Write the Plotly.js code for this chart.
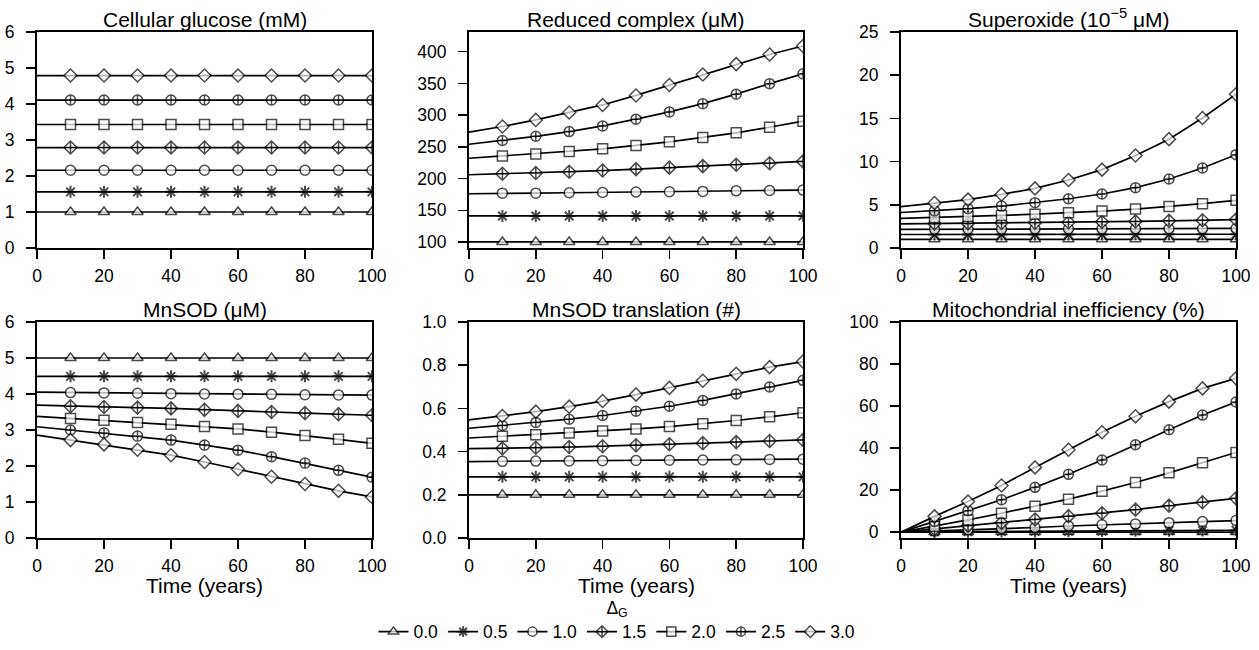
<!DOCTYPE html>
<html>
<head>
<meta charset="utf-8">
<script src="https://cdn.plot.ly/plotly-3.0.1.min.js"></script>
<style>html,body{margin:0;padding:0;background:#fff;}#chart{width:1259px;height:650px;}</style>
</head>
<body>
<div id="chart"></div>
<script>
// ---- data ----
const years = [0,10,20,30,40,50,60,70,80,90,100];
const deltaG = ['0.0','0.5','1.0','1.5','2.0','2.5','3.0'];
const panelTitles = ['Cellular glucose (mM)','Reduced complex (\u03bcM)','Superoxide (10<sup>\u22125</sup> \u03bcM)',
                     'MnSOD (\u03bcM)','MnSOD translation (#)','Mitochondrial inefficiency (%)'];
const xTitle = 'Time (years)';

// Cellular glucose
const g00 = [1.0,1.0,1.0,1.0,1.0,1.0,1.0,1.0,1.0,1.0,1.0];
const g05 = [1.56,1.56,1.56,1.56,1.56,1.56,1.56,1.56,1.56,1.56,1.56];
const g10 = [2.16,2.16,2.16,2.16,2.16,2.16,2.16,2.16,2.16,2.16,2.16];
const g15 = [2.79,2.79,2.79,2.79,2.79,2.79,2.79,2.79,2.79,2.79,2.79];
const g20 = [3.43,3.43,3.43,3.43,3.43,3.43,3.43,3.43,3.43,3.43,3.43];
const g25 = [4.11,4.11,4.11,4.11,4.11,4.11,4.11,4.11,4.11,4.11,4.11];
const g30 = [4.79,4.79,4.79,4.79,4.79,4.79,4.79,4.79,4.79,4.79,4.79];
// Reduced complex
const r00 = [100,100,100,100,100,100,100,100,100,100,100];
const r05 = [141,141,141,141,141,141,141,141,141,141,141];
const r10 = [176,177,177,177.6,178,178.7,179.2,179.7,180.6,181.2,181.8];
const r15 = [206,207.5,208.7,210.6,212.6,214.8,217.2,219.6,221.8,224.2,227];
const r20 = [232,235.5,238.8,242.6,246.8,252.2,257.8,264.8,272,280.8,290.4];
const r25 = [254,260,266.6,274,283,293.6,305,318,333,349.6,365];
const r30 = [273,282,292.4,304,316,331,347.4,364,380.4,395.6,409];
// Superoxide
const s00 = [1.0,1.0,1.0,1.0,1.0,1.0,1.0,1.0,1.0,1.0,1.0];
const s05 = [1.56,1.56,1.56,1.57,1.57,1.57,1.57,1.58,1.58,1.58,1.59];
const s10 = [2.16,2.17,2.17,2.18,2.19,2.2,2.21,2.22,2.23,2.24,2.26];
const s15 = [2.79,2.82,2.85,2.89,2.93,2.98,3.03,3.08,3.14,3.21,3.29];
const s20 = [3.43,3.53,3.64,3.77,3.92,4.08,4.27,4.5,4.79,5.13,5.52];
const s25 = [4.11,4.3,4.55,4.85,5.25,5.7,6.25,6.98,7.99,9.26,10.8];
const s30 = [4.79,5.2,5.6,6.2,6.9,7.87,9.07,10.7,12.6,15.05,17.8];
// MnSOD
const m00 = [5.0,5.0,5.0,5.0,5.0,5.0,5.0,5.0,5.0,5.0,5.0];
const m05 = [4.49,4.49,4.49,4.49,4.49,4.49,4.49,4.49,4.49,4.49,4.49];
const m10 = [4.05,4.04,4.03,4.02,4.01,4.0,3.995,3.99,3.98,3.975,3.97];
const m15 = [3.69,3.66,3.64,3.62,3.6,3.56,3.53,3.5,3.47,3.44,3.41];
const m20 = [3.38,3.32,3.27,3.21,3.16,3.1,3.03,2.94,2.85,2.74,2.63];
const m25 = [3.09,3.0,2.92,2.83,2.72,2.58,2.44,2.26,2.08,1.88,1.69];
const m30 = [2.86,2.72,2.6,2.45,2.3,2.11,1.91,1.7,1.5,1.31,1.14];
// MnSOD translation
const t00 = [0.2,0.2,0.2,0.2,0.2,0.2,0.2,0.2,0.2,0.2,0.2];
const t05 = [0.283,0.283,0.283,0.283,0.283,0.283,0.283,0.283,0.283,0.283,0.283];
const t10 = [0.354,0.355,0.356,0.357,0.358,0.359,0.36,0.361,0.362,0.364,0.365];
const t15 = [0.414,0.415,0.418,0.421,0.425,0.429,0.434,0.439,0.444,0.449,0.454];
const t20 = [0.463,0.471,0.478,0.486,0.495,0.505,0.516,0.529,0.544,0.561,0.58];
const t25 = [0.508,0.521,0.535,0.55,0.567,0.587,0.61,0.637,0.667,0.699,0.73];
const t30 = [0.547,0.565,0.585,0.608,0.634,0.664,0.695,0.728,0.76,0.791,0.817];
// Mitochondrial inefficiency
const e00 = [0,0,0,0,0,0,0,0,0,0,0];
const e05 = [0,0.1,0.2,0.3,0.35,0.45,0.5,0.6,0.7,0.8,0.9];
const e10 = [0,0.5,1.1,1.7,2.2,2.9,3.5,3.9,4.5,5.0,5.5];
const e15 = [0,1.5,3.1,4.4,6.0,7.6,9.0,10.7,12.6,14.2,16.1];
const e20 = [0,2.8,5.8,9.0,12.3,15.7,19.5,23.6,28.2,33.0,37.9];
const e25 = [0,5.1,10.2,15.4,21.3,27.5,34.3,41.6,48.7,55.7,61.9];
const e30 = [0,7.5,14.6,22.2,30.8,39.2,47.5,55.1,62.1,68.4,73.2];

const panels = [
  [g00,g05,g10,g15,g20,g25,g30],
  [r00,r05,r10,r15,r20,r25,r30],
  [s00,s05,s10,s15,s20,s25,s30],
  [m00,m05,m10,m15,m20,m25,m30],
  [t00,t05,t10,t15,t20,t25,t30],
  [e00,e05,e10,e15,e20,e25,e30]
];

// ---- styles ----
const W = 1259, H = 650;
const FONT = 'Liberation Sans, Arial, Helvetica, sans-serif';
const symbols = ['triangle-up','asterisk-open','circle','diamond-cross','square','circle-cross','diamond'];
const colX = [[37,372],[469,803],[901,1236]];
const rowY = [[32,248],[322,538]];
const yRanges = [[0,6],[90.5,431],[0,25],[0,6],[0,1],[-2.8,100]];
const yTicks = [
  {tick0:0,dtick:1},{tick0:100,dtick:50},{tick0:0,dtick:5},
  {tick0:0,dtick:1},{tick0:0,dtick:0.2,tickformat:'.1f'},{tick0:0,dtick:20}
];

const msize = years.map((x,i)=> i===0 ? 0 : 10);

const traces = [];
panels.forEach((series, p) => {
  series.forEach((vals, k) => {
    const isAst = symbols[k].startsWith('asterisk');
    traces.push({
      x: years, y: vals,
      xaxis: 'x' + (p+1), yaxis: 'y' + (p+1),
      type: 'scatter', mode: 'lines+markers',
      name: deltaG[k], legendgroup: deltaG[k], showlegend: p === 0,
      line: {color: '#000', width: 1.7},
      marker: {symbol: symbols[k], size: msize, color: isAst ? '#000' : '#fff',
               line: {color: '#000', width: isAst ? 2 : 1.5}},
      hoverinfo: 'x+y'
    });
  });
});

const layout = {
  width: W, height: H,
  margin: {l:0, r:0, t:0, b:0},
  paper_bgcolor: '#fff', plot_bgcolor: '#fff',
  font: {family: FONT, size: 17.5, color: '#000'},
  showlegend: true,
  legend: {
    orientation: 'h', xanchor: 'center', x: 617/W, yanchor: 'bottom', y: 0,
    font: {family: FONT, size: 17.5, color: '#000'},
    title: {text: '\u0394<sub>G</sub>', side: 'top center', font: {family: FONT, size: 17.5}},
    bgcolor: 'rgba(0,0,0,0)', borderwidth: 0, traceorder: 'normal'
  },
  annotations: []
};

for (let p = 0; p < 6; p++) {
  const c = p % 3, r = Math.floor(p / 3);
  const xd = [colX[c][0]/W, colX[c][1]/W];
  const yd = [(H - rowY[r][1])/H, (H - rowY[r][0])/H];
  const axCommon = {
    showline: true, linecolor: '#000', linewidth: 2, mirror: true,
    ticks: 'outside', ticklen: 9, tickwidth: 1.5, tickcolor: '#000',
    showgrid: false, zeroline: false,
    tickfont: {family: FONT, size: 17.5, color: '#000'}
  };
  layout['xaxis' + (p+1)] = Object.assign({}, axCommon, {
    domain: xd, range: [0, 100], tick0: 0, dtick: 20, anchor: 'y' + (p+1),
    ticklabelstandoff: 2
  });
  layout['yaxis' + (p+1)] = Object.assign({}, axCommon, yTicks[p], {
    domain: yd, range: yRanges[p], anchor: 'x' + (p+1),
    ticklabelstandoff: 8
  });
  layout.annotations.push({
    text: panelTitles[p], xref: 'paper', yref: 'paper',
    x: (xd[0] + xd[1]) / 2, y: yd[1], xanchor: 'center', yanchor: 'bottom',
    yshift: -1, showarrow: false, font: {family: FONT, size: 21, color: '#000'}
  });
  if (r === 1) {
    layout.annotations.push({
      text: xTitle, xref: 'paper', yref: 'paper',
      x: (xd[0] + xd[1]) / 2, y: yd[0], xanchor: 'center', yanchor: 'top',
      yshift: -34, showarrow: false, font: {family: FONT, size: 21, color: '#000'}
    });
  }
}

Plotly.newPlot('chart', traces, layout, {displayModeBar: false, staticPlot: true});
</script>
</body>
</html>
